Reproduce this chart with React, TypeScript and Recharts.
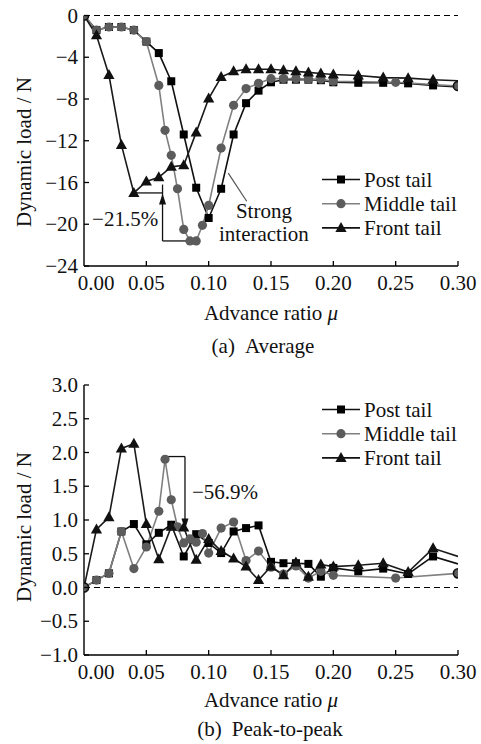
import React from 'react';
import { LineChart, Line, XAxis, YAxis, ReferenceLine, ReferenceDot } from 'recharts';

const FONT = "'Liberation Serif', 'Times New Roman', Times, 'DejaVu Serif', serif";
const TXT = { fontFamily: FONT, fontSize: 21 };

// advance ratio samples
const muPostFront = [
  0, 0.01, 0.02, 0.03, 0.04, 0.05, 0.06, 0.07, 0.08, 0.09, 0.1, 0.11, 0.12, 0.13,
  0.14, 0.15, 0.16, 0.17, 0.18, 0.19, 0.2, 0.22, 0.24, 0.26, 0.28, 0.3,
];
const muMiddle = [
  0, 0.01, 0.02, 0.03, 0.04, 0.05, 0.06, 0.065, 0.07, 0.075, 0.08, 0.085, 0.09, 0.095,
  0.1, 0.11, 0.12, 0.13, 0.14, 0.15, 0.16, 0.17, 0.18, 0.19, 0.2, 0.25, 0.3,
];

// (a) average dynamic load, N
const avgPost = [
  0, -1.4, -1.1, -1.1, -1.4, -2.5, -3.6, -6.3, -11.4, -16.5, -19.4, -16.6, -11.4, -8.4,
  -7.2, -6.4, -6.15, -6.15, -6.15, -6.2, -6.4, -6.45, -6.45, -6.5, -6.7, -6.85,
];
const avgMiddle = [
  0, -1.4, -1.1, -1.1, -1.4, -2.5, -6.7, -11.0, -13.4, -16.6, -20.5, -21.6, -21.6, -20.1,
  -18.2, -12.7, -8.6, -7.0, -6.5, -6.05, -6.05, -6.05, -6.1, -6.1, -6.3, -6.4, -6.75,
];
const avgFront = [
  0, -1.9, -5.7, -12.4, -17.0, -15.9, -15.5, -14.5, -14.35, -11.2, -7.95, -5.9, -5.35, -5.15,
  -5.15, -5.15, -5.25, -5.35, -5.45, -5.55, -5.65, -5.75, -5.95, -6.0, -6.15, -6.25,
];

// (b) peak-to-peak dynamic load, N
const ppPost = [
  0, 0.11, 0.21, 0.83, 0.94, 0.64, 0.81, 0.93, 0.46, 0.79, 0.66, 0.51, 0.83, 0.88,
  0.92, 0.38, 0.36, 0.36, 0.35, 0.16, 0.29, 0.24, 0.28, 0.2, 0.46, 0.35,
];
const ppMiddle = [
  0, 0.11, 0.21, 0.83, 0.28, 0.6, 1.13, 1.9, 1.3, 0.9, 0.66, 0.72, 0.67, 0.8,
  0.51, 0.88, 0.97, 0.4, 0.54, 0.3, 0.2, 0.32, 0.14, 0.24, 0.18, 0.14, 0.21,
];
const ppFront = [
  0, 0.86, 1.04, 2.06, 2.13, 0.94, 0.42, 0.9, 0.89, 0.41, 0.72, 0.54, 0.43, 0.31,
  0.11, 0.31, 0.18, 0.37, 0.16, 0.34, 0.31, 0.33, 0.36, 0.23, 0.58, 0.46,
];

const xTicks = [0, 0.05, 0.1, 0.15, 0.2, 0.25, 0.3];
const avgTicks = [0, -4, -8, -12, -16, -20, -24];
const ppTicks = [3, 2.5, 2, 1.5, 1, 0.5, 0, -0.5, -1];
const seriesNames = ['Post tail', 'Middle tail', 'Front tail'];

const toRows = (mu: number[], v: number[]) => mu.map((m, i) => ({ mu: m, v: v[i] }));
const minus = (s: string) => s.replace('-', '\u2212');

const Marker = ({ kind, cx, cy, edge }: { kind: number; cx: number; cy: number; edge?: boolean }) => {
  if (kind === 0) return <rect x={cx - 4} y={cy - 4} width={8} height={8} fill="#000" />;
  if (kind === 1)
    return <circle cx={cx} cy={cy} r={4.6} fill="#5c5c5c" stroke={edge ? '#111' : 'none'} strokeWidth={1.6} />;
  return <path d={`M${cx},${cy - 6} L${cx - 5.6},${cy + 4} L${cx + 5.6},${cy + 4} Z`} fill="#111" />;
};

const makeDot = (kind: number, count: number) => (p: any) => {
  const last = p.index === count - 1;
  const first = p.index === 0;
  if (kind !== 1 && (first || last)) return <g key={`d${kind}-${p.index}`} />;
  return (
    <g key={`d${kind}-${p.index}`}>
      <Marker kind={kind} cx={p.cx} cy={p.cy} edge={first || last} />
    </g>
  );
};

const XTick = (p: any) => {
  const v = p.payload.value;
  return (
    <g>
      {v !== 0 && <line x1={p.x} y1={p.y} x2={p.x} y2={p.y - 5} stroke="#000" strokeWidth={1.3} />}
      <text x={p.x + (v === 0 ? 12 : 0)} y={p.y + 24} textAnchor="middle" style={TXT} fill="#111">
        {v.toFixed(2)}
      </text>
    </g>
  );
};

const makeYTick = (digits: number) => (p: any) => {
  const v = p.payload.value;
  return (
    <g>
      <line x1={p.x} y1={p.y} x2={p.x + 5} y2={p.y} stroke="#000" strokeWidth={1.3} />
      <text x={p.x - 6} y={p.y + 7} textAnchor="end" style={TXT} fill="#111">
        {minus(v.toFixed(digits))}
      </text>
    </g>
  );
};

const TextAt = (txt: string, anchor: 'start' | 'middle' | 'end') => (p: any) => (
  <text x={p.cx} y={p.cy + 7} textAnchor={anchor} style={TXT} fill="#111">
    {txt}
  </text>
);

const ArrowUp = (p: any) => <path d={`M${p.cx},${p.cy} L${p.cx - 3.5},${p.cy + 11} L${p.cx + 3.5},${p.cy + 11} Z`} fill="#111" />;
const ArrowDown = (p: any) => <path d={`M${p.cx},${p.cy} L${p.cx - 3.5},${p.cy - 11} L${p.cx + 3.5},${p.cy - 11} Z`} fill="#111" />;

interface PanelProps {
  top: number;
  post: number[];
  middle: number[];
  front: number[];
  domain: [number, number];
  ticks: number[];
  digits: number;
  marginTop: number;
  marginBottom: number;
  children?: React.ReactNode;
}

const Panel = ({ top, post, middle, front, domain, ticks, digits, marginTop, marginBottom, children }: PanelProps) => {
  const sets = [toRows(muPostFront, post), toRows(muMiddle, middle), toRows(muPostFront, front)];
  const colors = ['#111', '#808080', '#1a1a1a'];
  return (
    <div style={{ position: 'absolute', left: 0, top }}>
      <LineChart width={481} height={330} margin={{ top: marginTop, right: 23, bottom: marginBottom, left: 24 }}>
        <XAxis
          type="number"
          dataKey="mu"
          domain={[0, 0.3]}
          ticks={xTicks}
          height={30}
          tickSize={0}
          tickMargin={0}
          tickLine={false}
          tick={XTick}
          axisLine={{ stroke: '#000', strokeWidth: 1.4 }}
          allowDataOverflow
        />
        <YAxis
          type="number"
          domain={domain}
          ticks={ticks}
          width={60}
          tickSize={0}
          tickMargin={0}
          tickLine={false}
          tick={makeYTick(digits)}
          axisLine={{ stroke: '#000', strokeWidth: 1.4 }}
          allowDataOverflow
        />
        <ReferenceLine y={0} stroke="#000" strokeWidth={1.2} strokeDasharray="6 4" />
        {children}
        {sets.map((rows, k) => (
          <Line
            key={seriesNames[k]}
            name={seriesNames[k]}
            data={rows}
            dataKey="v"
            type="linear"
            stroke={colors[k]}
            strokeWidth={1.6}
            dot={makeDot(k, rows.length)}
            activeDot={false}
            isAnimationActive={false}
          />
        ))}
      </LineChart>
    </div>
  );
};

const Legend = ({ y }: { y: number }) => (
  <g>
    {seriesNames.map((n, i) => {
      const cy = y + i * 24.2;
      return (
        <g key={n}>
          <line x1={322} y1={cy} x2={360} y2={cy} stroke={i === 1 ? '#808080' : '#111'} strokeWidth={1.6} />
          <Marker kind={i} cx={341} cy={cy} />
          <text x={364} y={cy + 7} style={TXT} fill="#111">
            {n}
          </text>
        </g>
      );
    })}
  </g>
);

const AxisTitle = ({ y }: { y: number }) => (
  <text x={271} y={y} textAnchor="middle" style={TXT} fill="#111">
    Advance ratio <tspan fontStyle="italic">μ</tspan>
  </text>
);

export default function App() {
  return (
    <div style={{ position: 'absolute', left: 0, top: 0, width: 481, height: 744, background: '#fff', overflow: 'hidden', fontFamily: FONT }}>
      <Panel
        top={0}
        post={avgPost}
        middle={avgMiddle}
        front={avgFront}
        domain={[-24, 0]}
        ticks={avgTicks}
        digits={0}
        marginTop={15.5}
        marginBottom={34}
      >
        <ReferenceLine segment={[{ x: 0.04, y: -17 }, { x: 0.063, y: -17 }]} stroke="#111" strokeWidth={1.3} ifOverflow="visible" />
        <ReferenceLine segment={[{ x: 0.063, y: -16.2 }, { x: 0.063, y: -21.6 }]} stroke="#111" strokeWidth={1.3} ifOverflow="visible" />
        <ReferenceLine segment={[{ x: 0.063, y: -21.6 }, { x: 0.085, y: -21.6 }]} stroke="#111" strokeWidth={1.3} ifOverflow="visible" />
        <ReferenceDot x={0.063} y={-17.05} r={0} shape={ArrowUp} ifOverflow="visible" />
        <ReferenceDot x={0.0595} y={-19.5} r={0} shape={TextAt('\u221221.5%', 'end')} ifOverflow="visible" />
        <ReferenceLine segment={[{ x: 0.1157, y: -15.1 }, { x: 0.1305, y: -17.8 }]} stroke="#555" strokeWidth={1.2} ifOverflow="visible" />
        <ReferenceDot x={0.1443} y={-18.75} r={0} shape={TextAt('Strong', 'middle')} ifOverflow="visible" />
        <ReferenceDot x={0.1443} y={-20.95} r={0} shape={TextAt('interaction', 'middle')} ifOverflow="visible" />
      </Panel>
      <Panel
        top={370}
        post={ppPost}
        middle={ppMiddle}
        front={ppFront}
        domain={[-1, 3]}
        ticks={ppTicks}
        digits={1}
        marginTop={15}
        marginBottom={15}
      >
        <ReferenceLine segment={[{ x: 0.065, y: 1.94 }, { x: 0.081, y: 1.94 }]} stroke="#111" strokeWidth={1.3} ifOverflow="visible" />
        <ReferenceLine segment={[{ x: 0.081, y: 1.94 }, { x: 0.081, y: 1.0 }]} stroke="#111" strokeWidth={1.3} ifOverflow="visible" />
        <ReferenceDot x={0.081} y={0.86} r={0} shape={ArrowDown} ifOverflow="visible" />
        <ReferenceDot x={0.0866} y={1.42} r={0} shape={TextAt('\u221256.9%', 'start')} ifOverflow="visible" />
      </Panel>
      <svg width={481} height={744} style={{ position: 'absolute', left: 0, top: 0, pointerEvents: 'none' }}>
        <text transform="translate(31,152) rotate(-90)" textAnchor="middle" style={TXT} fill="#111">
          Dynamic load / N
        </text>
        <text transform="translate(31,527) rotate(-90)" textAnchor="middle" style={TXT} fill="#111">
          Dynamic load / N
        </text>
        <AxisTitle y={320} />
        <AxisTitle y={707} />
        <text x={263} y={353} textAnchor="middle" style={TXT} fill="#111">
          (a)<tspan dx={10}>Average</tspan>
        </text>
        <text x={270} y={736} textAnchor="middle" style={TXT} fill="#111">
          (b)<tspan dx={10}>Peak-to-peak</tspan>
        </text>
        <Legend y={179.5} />
        <Legend y={409.5} />
      </svg>
    </div>
  );
}
